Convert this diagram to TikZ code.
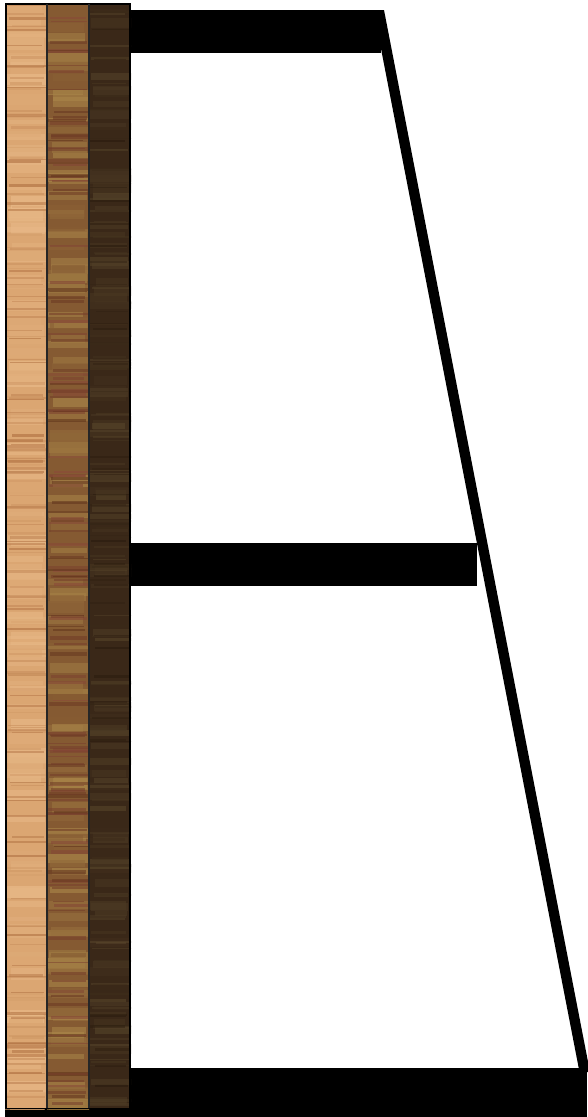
\documentclass[tikz,border=0pt]{standalone}
\definecolor{wAbase}{HTML}{DBA672}
\definecolor{wAl}{HTML}{EBBD8C}
\definecolor{wAd}{HTML}{A9683A}
\definecolor{wBbase}{HTML}{855A32}
\definecolor{wBl}{HTML}{AE8C4C}
\definecolor{wBd}{HTML}{5A3016}
\definecolor{wBr}{HTML}{8E4A3C}
\definecolor{wCbase}{HTML}{3A2818}
\definecolor{wCl}{HTML}{5C4A2E}
\definecolor{wCd}{HTML}{24160A}
\tikzset{
  bar/.style={fill=black},
  woodframe/.style={draw=black,line width=1.6pt},
  divider/.style={draw=black!85,line width=1.8pt}
}
\newcommand{\grain}[8]{% x0 x1 count colA colB opacity minh rangeh
  \foreach \i in {1,...,#3}{
    \pgfmathsetmacro{\yy}{3+rnd*1106}
    \pgfmathsetmacro{\hh}{#7+rnd*#8}
    \pgfmathtruncatemacro{\pp}{rnd*100}
    \pgfmathsetmacro{\xa}{#1-4+rnd*10}
    \pgfmathsetmacro{\xb}{#2+4-rnd*10}
    \fill[#4!\pp!#5, opacity=#6] (\xa,\yy) rectangle (\xb,\yy+\hh);
  }
}
\begin{document}
\begin{tikzpicture}[x=1pt,y=-1pt]
\useasboundingbox (0,0) rectangle (587,1117);
\fill[white] (0,0) rectangle (587,1117);
% shelves
\fill[bar] (130,10) rectangle (380.5,52.5);
\fill[bar] (130,543.3) rectangle (476.5,585.8);
\fill[bar] (5,1067.8) rectangle (587,1117);
% slanted side
\fill[bar] (373.5,10) -- (384,10) -- (590,1072) -- (579.5,1072) -- cycle;
% wood strips
\pgfmathsetseed{11}
\begin{scope}
  \clip (5,3) rectangle (47,1109);
  \fill[wAbase] (5,3) rectangle (47,1109);
  \grain{6}{47}{120}{wAl}{wAbase}{0.6}{4}{10}
  \grain{6}{47}{170}{wAd}{wAbase}{0.55}{0.8}{2.2}
\end{scope}
\begin{scope}
  \clip (47,3) rectangle (89,1109);
  \fill[wBbase] (47,3) rectangle (89,1109);
  \grain{48}{89}{130}{wBl}{wBbase}{0.6}{3}{9}
  \grain{48}{89}{140}{wBd}{wBr}{0.55}{0.8}{3}
\end{scope}
\begin{scope}
  \clip (89,3) rectangle (131,1109);
  \fill[wCbase] (89,3) rectangle (131,1109);
  \grain{90}{131}{110}{wCl}{wCbase}{0.55}{2}{8}
  \grain{90}{131}{120}{wCd}{wCl}{0.45}{0.8}{2}
\end{scope}
\draw[woodframe] (5.8,3.8) rectangle (130.2,1108.4);
\draw[divider] (47,3.8) -- (47,1108.4);
\draw[divider] (89,3.8) -- (89,1108.4);
\end{tikzpicture}
\end{document}
